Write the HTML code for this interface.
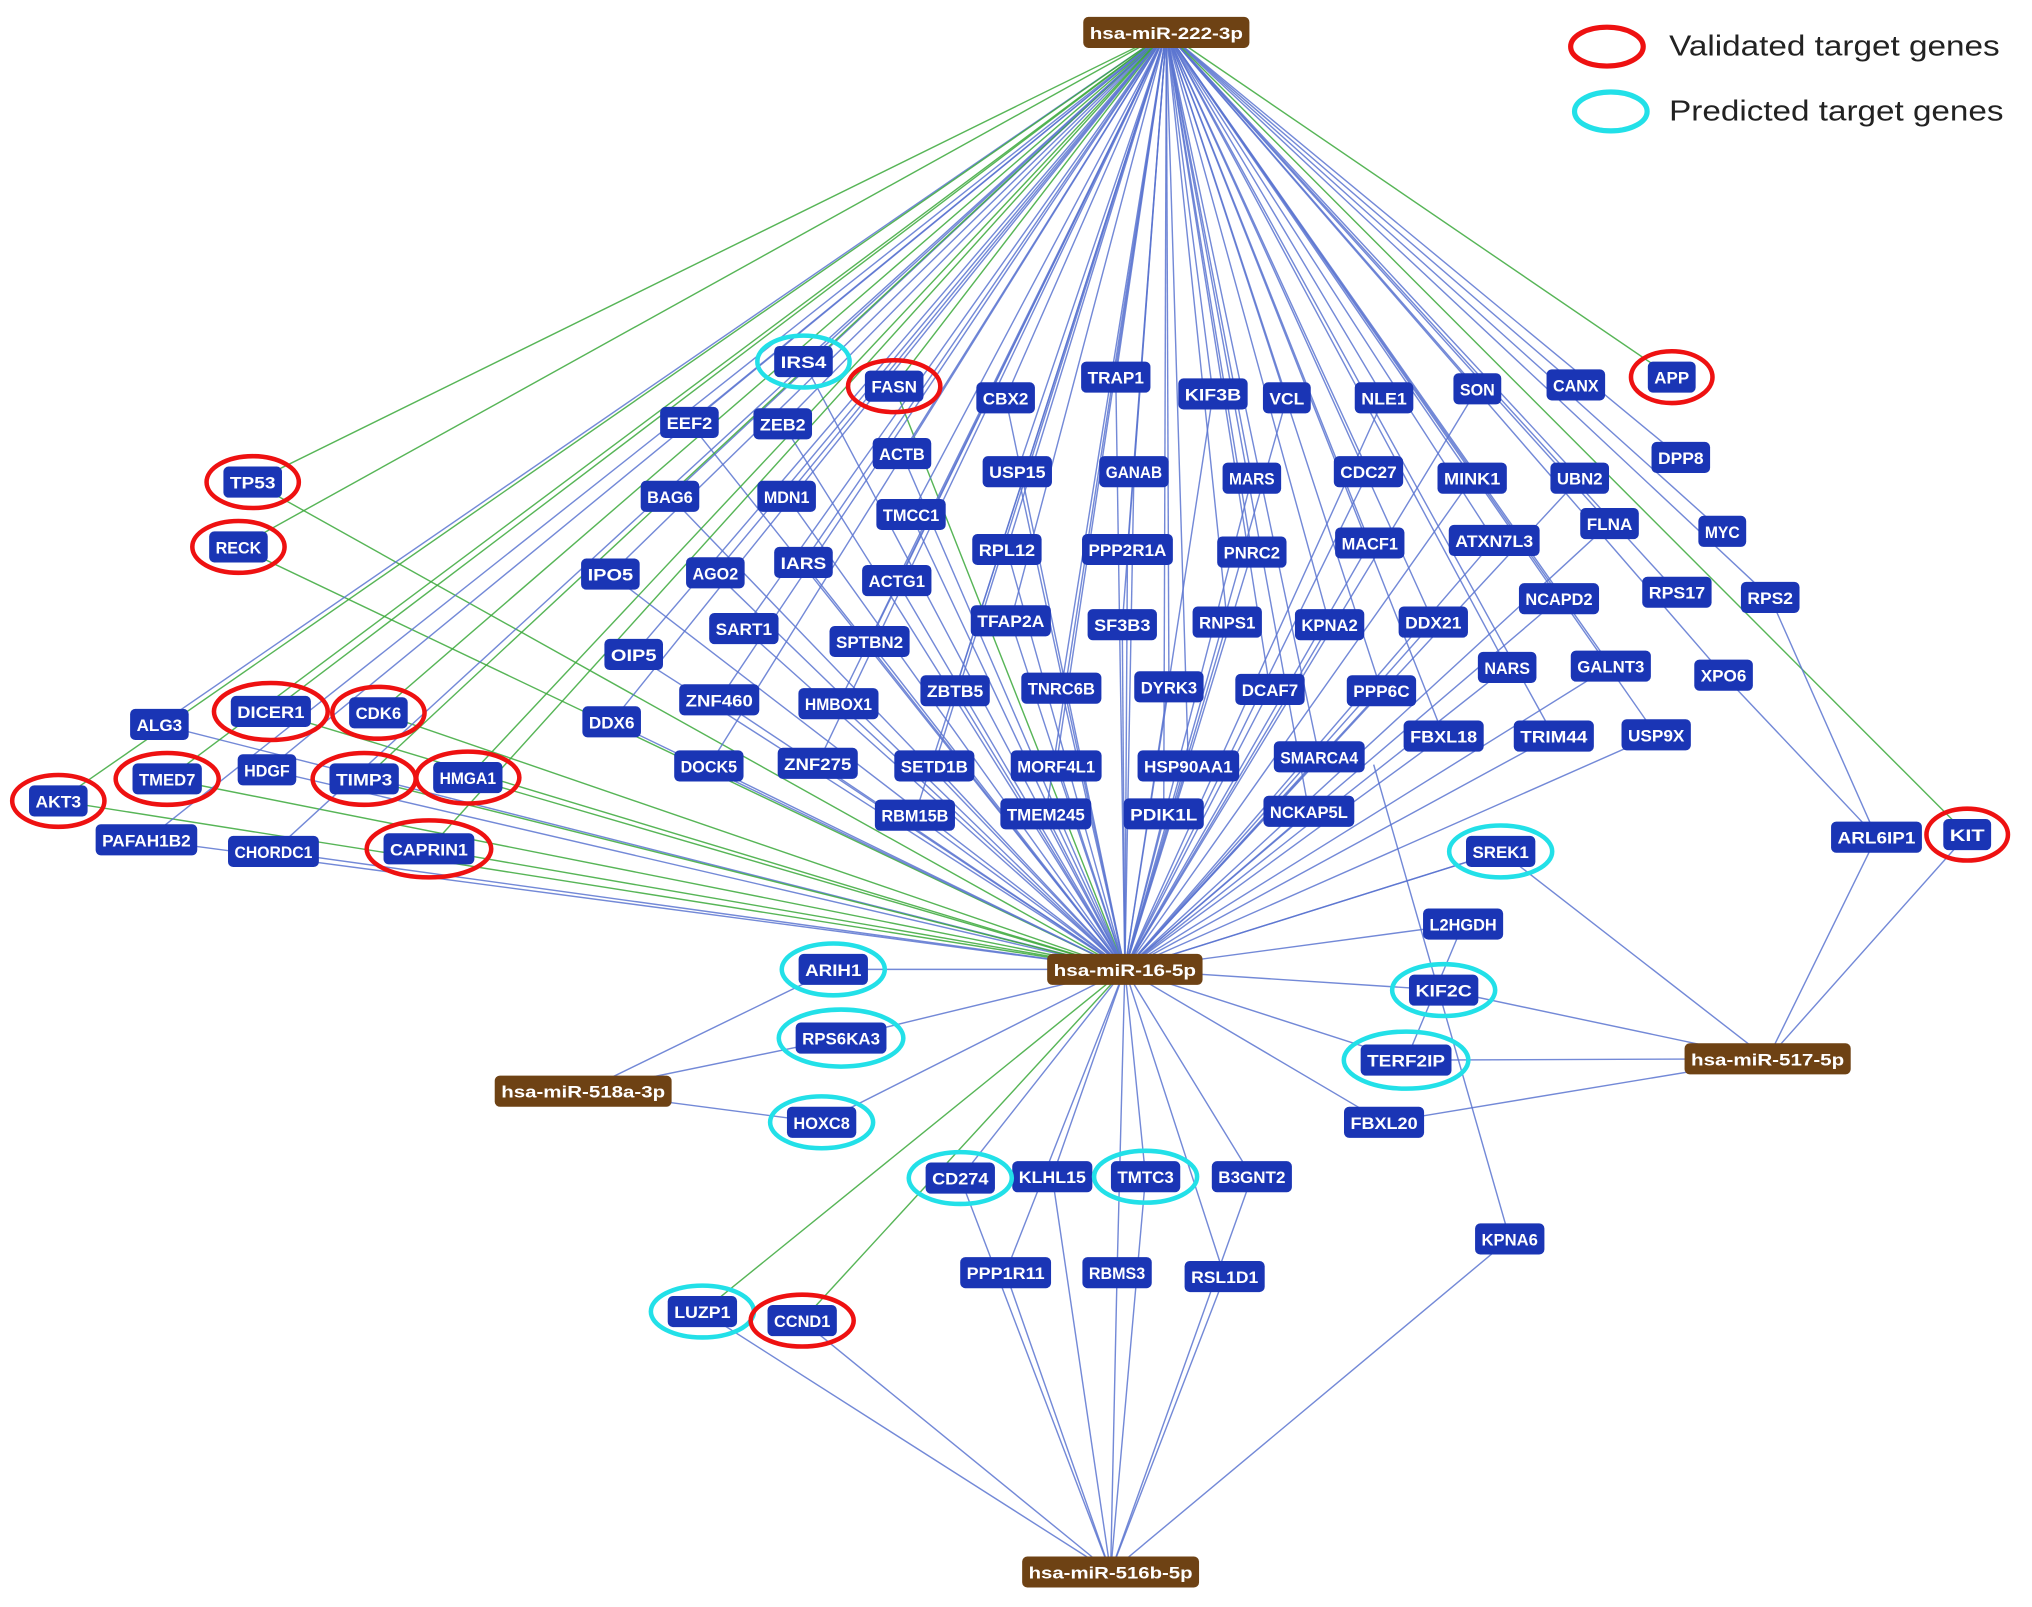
<!DOCTYPE html>
<html><head><meta charset="utf-8"><style>
html,body{margin:0;padding:0;background:#fff;width:2032px;height:1607px;overflow:hidden}
svg{display:block}
text{font-family:"Liberation Sans",Arial,sans-serif}
</style></head><body>
<svg id="s" width="2032" height="1607" viewBox="0 0 1568 1240" preserveAspectRatio="none" xmlns="http://www.w3.org/2000/svg">
<g id="edges"></g><g id="nodes"></g><g id="rings"></g>
<ellipse cx="1240" cy="36" rx="28" ry="15" fill="none" stroke="#ee1111" stroke-width="4"/>
<text x="1288" y="43" font-size="22" fill="#222" textLength="255" lengthAdjust="spacingAndGlyphs">Validated target genes</text>
<ellipse cx="1243" cy="86" rx="28" ry="15" fill="none" stroke="#22e0e8" stroke-width="4"/>
<text x="1288" y="93" font-size="22" fill="#222" textLength="258" lengthAdjust="spacingAndGlyphs">Predicted target genes</text>
</svg>
<script>
var NS="http://www.w3.org/2000/svg";
var hubs={H222:["hsa-miR-222-3p",900,25],H16:["hsa-miR-16-5p",868,748],H518:["hsa-miR-518a-3p",450,842],H517:["hsa-miR-517-5p",1364,817],H516:["hsa-miR-516b-5p",857,1213]};
var G=[["IRS4",620,279,"c"],["FASN",690,298,"r"],["CBX2",776,307],["TRAP1",861,291],["KIF3B",936,304],["VCL",993,307],["NLE1",1068,307],["SON",1140,300],["CANX",1216,297],["APP",1290,291,"r"],
["EEF2",532,326],["ZEB2",604,327],["ACTB",696,350],["USP15",785,364],["GANAB",875,364],["MARS",966,369],["CDC27",1056,364],["MINK1",1136,369],["UBN2",1219,369],["DPP8",1297,353],
["TP53",195,372,"r"],["RECK",184,422,"r"],["BAG6",517,383],["MDN1",607,383],["TMCC1",703,397],["RPL12",777,424],["PPP2R1A",870,424],["PNRC2",966,426],["MACF1",1057,419],["ATXN7L3",1153,417],["FLNA",1242,404],["MYC",1329,410],
["IPO5",471,443],["AGO2",552,442],["IARS",620,434],["ACTG1",692,448],["NCAPD2",1203,462],["RPS17",1294,457],["RPS2",1366,461],
["TFAP2A",780,479],["SF3B3",866,482],["RNPS1",947,480],["KPNA2",1026,482],["DDX21",1106,480],["SART1",574,485],["SPTBN2",671,495],["OIP5",489,505],
["NARS",1163,515],["GALNT3",1243,514],["XPO6",1330,521],["ZNF460",555,540],["HMBOX1",647,543],["ZBTB5",737,533],["TNRC6B",819,531],["DYRK3",902,530],["DCAF7",980,532],["PPP6C",1066,533],
["ALG3",123,559],["DICER1",209,549,"r"],["CDK6",292,550,"r"],["DDX6",472,557],["FBXL18",1114,568],["TRIM44",1199,568],["USP9X",1278,567],
["TMED7",129,601,"r"],["HDGF",206,594],["TIMP3",281,601,"r"],["HMGA1",361,600,"r"],["AKT3",45,618,"r"],["DOCK5",547,591],["ZNF275",631,589],["SETD1B",721,591],["MORF4L1",815,591],["HSP90AA1",917,591],["SMARCA4",1018,584],
["PAFAH1B2",113,648],["CHORDC1",211,657],["CAPRIN1",331,655,"r"],["RBM15B",706,629],["TMEM245",807,628],["PDIK1L",898,628],["NCKAP5L",1010,626],
["SREK1",1158,657,"c"],["ARL6IP1",1448,646],["KIT",1518,644,"r"],["L2HGDH",1129,713],["ARIH1",643,748,"c"],["KIF2C",1114,764,"c"],["RPS6KA3",649,801,"c"],["TERF2IP",1085,818,"c"],["HOXC8",634,866,"c"],["FBXL20",1068,866],
["CD274",741,909,"c"],["KLHL15",812,908],["TMTC3",884,908,"c"],["B3GNT2",966,908],["KPNA6",1165,956],["PPP1R11",776,982],["RBMS3",862,982],["RSL1D1",945,985],["LUZP1",542,1012,"c"],["CCND1",619,1019,"r"]];
var P={};G.forEach(function(g){P[g[0]]=g});
var eg=document.getElementById("edges"),ng=document.getElementById("nodes"),rg=document.getElementById("rings");
function line(a,b,c){var l=document.createElementNS(NS,"line");l.setAttribute("x1",a[0]);l.setAttribute("y1",a[1]);l.setAttribute("x2",b[0]);l.setAttribute("y2",b[1]);l.setAttribute("stroke",c);l.setAttribute("stroke-width","1.1");l.setAttribute("stroke-opacity","0.85");eg.appendChild(l)}
var BL="#5b74d0",GR="#3aa83a";
var h222=[900,25],h16=[868,748];
var no16={"APP":1,"DPP8":1,"MYC":1,"RPS2":1,"KIT":1,"ARL6IP1":1,"RPS17":1,"XPO6":1,"CANX":1};
G.forEach(function(g){
 if(g[2]<700&&g[0]!="SREK1"&&g[0]!="ARL6IP1"){line(h222,[g[1],g[2]],g[3]=="r"?GR:BL);}
 if(g[2]<700&&!no16[g[0]]){line(h16,[g[1],g[2]],g[3]=="r"?GR:BL);}
});
var low16=["ARIH1","RPS6KA3","HOXC8","L2HGDH","SREK1","KIF2C","TERF2IP","FBXL20","CD274","KLHL15","TMTC3","B3GNT2","PPP1R11","RBMS3","RSL1D1"];
low16.forEach(function(n){line(h16,[P[n][1],P[n][2]],BL)});
line(h16,[542,1012],GR);line(h16,[619,1019],GR);
["ARIH1","RPS6KA3","HOXC8"].forEach(function(n){line([450,842],[P[n][1],P[n][2]],BL)});
["SREK1","KIF2C","TERF2IP","FBXL20","ARL6IP1","KIT"].forEach(function(n){line([1364,817],[P[n][1],P[n][2]],BL)});
["LUZP1","CCND1","PPP1R11","RBMS3","RSL1D1","KLHL15","TMTC3","KPNA6","CD274","B3GNT2"].forEach(function(n){line([857,1213],[P[n][1],P[n][2]],BL)});
line([1165,956],[1060,590],BL);line([1448,646],[1366,461],BL);line([1448,646],[1330,521],BL);line([1085,818],[1129,713],BL);
function box(t,x,y,fill,fs){var w=t.length*8.3+12,h=24;var r=document.createElementNS(NS,"rect");r.setAttribute("x",x-w/2);r.setAttribute("y",y-h/2);r.setAttribute("width",w);r.setAttribute("height",h);r.setAttribute("rx",4);r.setAttribute("fill",fill);ng.appendChild(r);
var tx=document.createElementNS(NS,"text");tx.setAttribute("x",x);tx.setAttribute("y",y+5);tx.setAttribute("text-anchor","middle");tx.setAttribute("font-size",fs);tx.setAttribute("font-weight","bold");tx.setAttribute("fill","#fff");tx.setAttribute("textLength",w-10);tx.setAttribute("lengthAdjust","spacingAndGlyphs");tx.textContent=t;ng.appendChild(tx);return w}
for(var k in hubs){var h=hubs[k];box(h[0],h[1],h[2],"#6e4214",13);}
G.forEach(function(g){var w=box(g[0],g[1],g[2],"#1a35b5",13);
 if(g[3]){var e=document.createElementNS(NS,"ellipse");e.setAttribute("cx",g[1]);e.setAttribute("cy",g[2]);e.setAttribute("rx",w/2+13);e.setAttribute("ry",g[0].length>5?22:20);e.setAttribute("fill","none");e.setAttribute("stroke",g[3]=="r"?"#ee1111":"#22e0e8");e.setAttribute("stroke-width","3.5");rg.appendChild(e);}
});
</script>
</body></html>
